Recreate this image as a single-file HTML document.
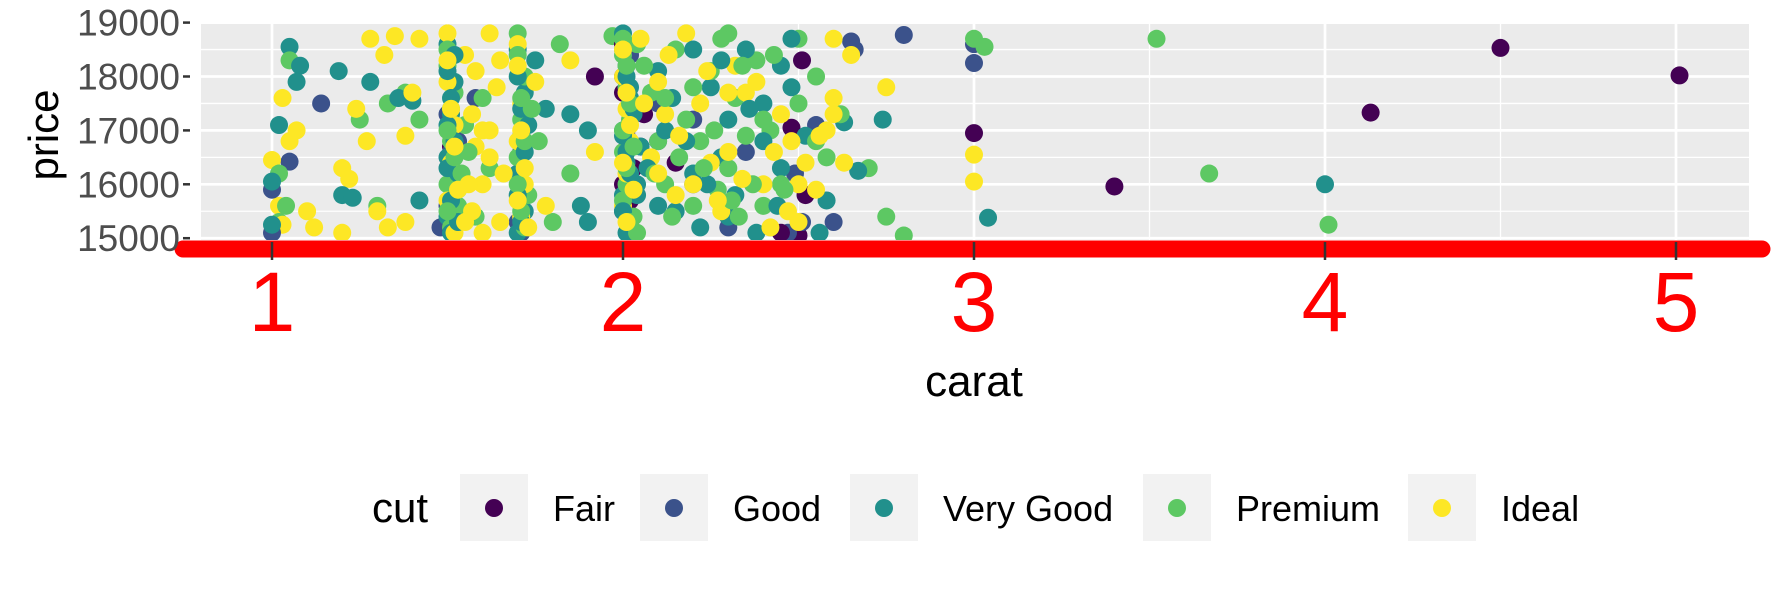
<!DOCTYPE html>
<html><head><meta charset="utf-8"><style>
html,body{margin:0;padding:0;background:#fff;}
svg{display:block;font-family:"Liberation Sans",Arial,sans-serif;}
</style></head><body>
<svg id="chart" width="1771" height="590" viewBox="0 0 1771 590" xmlns="http://www.w3.org/2000/svg">
<defs><clipPath id="pc"><rect x="201" y="22" width="1548" height="218"/></clipPath></defs>
<rect x="201" y="22" width="1548" height="218" fill="#ebebeb"/>
<g id="grid"></g>
<g id="pts" clip-path="url(#pc)"></g>
<line x1="183" y1="249" x2="1762" y2="249" stroke="#ff0000" stroke-width="17" stroke-linecap="round"/>
<g id="axes"></g>
<text x="974" y="396" font-size="44" text-anchor="middle" fill="#000">carat</text>
<text transform="translate(58,135) rotate(-90)" font-size="42" text-anchor="middle" fill="#000">price</text>
<g>
<text x="372" y="522" font-size="42" fill="#000">cut</text>
</g>
<g id="legend"></g>
</svg>
<script>
const xTicks=[1,2,3,4,5];
const xMinor=[1.5,2.5,3.5,4.5];
const yTicks=[15000,16000,17000,18000,19000];
const yMinor=[15500,16500,17500,18500];
const cuts=["Fair","Good","Very Good","Premium","Ideal"];
const colors=["#440154","#3B528B","#21908C","#5DC863","#FDE725"];

const fairCarat=[1.92,2.0,2.06,2.03,2.5,2.52,2.55,2.51,3.0,3.4,4.13,4.5,5.01,2.45,2.48,2.02,2.15,2.3,2.0,2.01,2.02,2.0,1.51];
const fairPrice=[18000,17700,17300,16300,15050,15800,16950,18300,16950,15960,17330,18530,18020,15100,17050,15700,16400,15400,18600,16900,15300,16000,16700];

const goodCarat=[1.05,1.14,1.0,1.0,1.48,2.47,2.8,2.65,2.66,3.0,3.0,2.49,1.7,1.5,1.52,2.0,2.2,2.3,1.53,2.6,1.72,2.1,2.51,2.55,1.58,2.35,2.05,1.71,2.02,2.0,2.01,2.02,1.5,1.51,1.71,2.1,2.2];
const goodPrice=[16420,17500,15900,15100,15200,15100,18770,18650,18500,18600,18250,16200,15300,17300,16100,15500,16000,15200,16800,15300,15800,17500,15300,17100,17600,16600,16700,15100,18400,18000,17000,16000,15600,16600,16600,16800,17200];

const vgCarat=[1.05,1.08,1.07,1.02,1.0,1.0,1.19,1.28,1.4,1.36,1.2,1.23,1.42,1.88,1.9,1.85,1.9,2.3,2.38,2.45,2.63,2.58,2.67,2.74,3.04,4.0,2.56,2.52,2.48,2.45,2.4,
1.5,1.51,1.5,1.52,1.5,1.52,1.51,1.53,1.7,1.72,1.71,1.7,1.72,1.7,1.75,1.78,
2.0,2.01,2.02,2.0,2.01,2.0,2.02,2.03,2.05,2.04,2.1,2.12,2.15,2.2,2.25,2.28,2.22,2.35,2.3,
1.5,1.51,1.52,1.5,1.51,1.53,1.5,1.52,1.7,1.71,1.72,1.7,1.71,1.73,
2.0,2.01,2.02,2.03,2.0,2.01,2.02,2.04,2.0,2.01,2.07,2.1,2.14,2.18,2.2,2.24,2.28,2.32,2.36,2.4,2.44,2.48];
const vgPrice=[18550,18200,17900,17100,16050,15250,18100,17900,17550,17600,15800,15750,15700,15600,15300,17300,17000,15400,15100,16300,17150,15700,16250,17200,15380,16000,15100,16900,18700,18200,17500,
18600,17300,16500,15900,15400,17900,15100,16200,18500,17700,16900,16200,15500,15100,18300,17400,
18800,18200,17600,17000,16400,15800,15200,17300,16700,16000,18100,17000,15500,16200,17800,16500,15200,18500,17200,
18100,17600,16800,16300,15700,15300,17100,18400,18000,17400,16600,15800,15300,17100,
18500,18000,17800,17400,16900,16600,16200,15800,15500,15100,16300,15600,17600,16800,18500,16000,18300,15800,17400,16800,15600,17800];

const premCarat=[1.05,1.02,1.02,1.04,1.25,1.33,1.38,1.42,1.3,1.85,1.82,1.8,1.97,2.5,2.55,2.58,2.7,2.75,2.8,3.0,3.03,3.52,3.67,4.01,2.62,2.45,2.42,2.4,2.38,2.3,2.32,
1.5,1.52,1.51,1.5,1.53,1.51,1.55,1.6,1.62,1.58,1.7,1.72,1.71,1.7,1.73,1.72,1.76,
2.0,2.01,2.02,2.0,2.01,2.03,2.04,2.08,2.1,2.12,2.15,2.18,2.2,2.22,2.25,2.27,2.3,2.33,2.35,
1.5,1.51,1.52,1.53,1.5,1.54,1.56,1.5,1.7,1.71,1.72,1.7,1.71,1.74,
2.0,2.01,2.02,2.0,2.03,2.01,2.0,2.02,2.04,2.06,2.09,2.12,2.14,2.16,2.2,2.23,2.26,2.28,2.31,2.34,2.37,2.4,2.43,2.46,2.5,2.55];
const premPrice=[18300,16200,15300,15600,17200,17500,17700,17200,15600,16200,18600,15300,18750,18700,18000,16500,16300,15400,15050,18700,18550,18700,16200,15250,17300,16000,17000,15600,18300,18800,17600,
18200,17700,16800,16000,15600,15200,17100,17600,16300,15400,18800,18000,17200,16500,15800,15200,16800,
18400,17800,17200,16600,16000,15400,18600,17700,16800,16000,18500,17200,15600,16800,18100,15900,16300,15400,16900,
18500,17400,16500,15900,15500,16200,16600,17000,18400,17600,16800,16000,15500,17400,
18700,18200,17500,17000,16700,16300,15700,15300,15100,18200,16200,17600,15400,16500,17800,16300,17000,18700,15700,18200,16000,17200,18400,15900,17500,16800];

const idealCarat=[1.0,1.02,1.03,1.05,1.03,1.07,1.1,1.12,1.2,1.22,1.24,1.27,1.28,1.32,1.35,1.3,1.33,1.2,1.38,1.4,1.42,1.38,1.85,1.92,2.6,2.65,2.6,2.75,2.63,2.58,2.55,2.5,3.0,3.0,2.48,2.5,
1.5,1.5,1.52,1.51,1.5,1.52,1.55,1.57,1.58,1.6,1.57,1.62,1.65,1.62,1.65,1.7,1.71,1.7,1.72,1.71,1.75,1.78,
2.0,2.01,2.02,2.01,2.0,2.02,2.05,2.1,2.12,2.08,2.15,2.18,2.22,2.25,2.28,2.32,2.35,2.3,2.4,2.42,2.45,
1.5,1.51,1.52,1.53,1.55,1.58,1.6,1.62,1.64,1.66,1.56,1.6,1.7,1.71,1.72,1.7,1.73,
2.0,2.01,2.02,2.0,2.03,2.01,2.06,2.1,2.13,2.16,2.2,2.24,2.27,2.3,2.34,2.38,2.43,2.47,2.52,2.56,2.6];
const idealPrice=[16450,15600,15250,16800,17600,17000,15500,15200,16300,16100,17400,16800,18700,18400,18750,15500,15200,15100,16900,17700,18700,15300,18300,16600,18700,18400,17300,17800,16400,17000,15900,15300,16550,16050,16800,16000,
18800,17900,17100,16400,15700,15100,18400,17300,16700,16000,15500,18800,18300,17000,15300,18600,17500,16800,16000,15400,17900,15600,
18000,17400,16800,16200,15600,15000,18700,17900,17300,16500,15800,18800,17500,16400,15500,18200,17700,16600,16000,15200,17300,
18300,17400,16700,15900,15300,18100,17000,16500,17800,16200,16000,15100,18200,17000,16300,15700,15200,
18500,17700,17100,16400,15900,15300,17500,16200,18400,16900,16000,18100,15700,17700,16100,17900,16600,15500,16400,16900,17600];

const seriesCarat=[fairCarat,goodCarat,vgCarat,premCarat,idealCarat];
const seriesPrice=[fairPrice,goodPrice,vgPrice,premPrice,idealPrice];

const NS="http://www.w3.org/2000/svg";
function xs(c){return 272+(c-1)*351;}
function ys(p){return 22.6+(19000-p)*0.0539;}
function mk(tag,attrs,parent){const e=document.createElementNS(NS,tag);for(const k in attrs)e.setAttribute(k,attrs[k]);parent.appendChild(e);return e;}

const grid=document.getElementById('grid');
yMinor.forEach(v=>{const l=mk('line',{x1:201,x2:1749,y1:ys(v),y2:ys(v),stroke:'#fff','stroke-width':1.3},grid);

});
xMinor.forEach(v=>{const l=mk('line',{x1:xs(v),x2:xs(v),y1:22,y2:240,stroke:'#fff','stroke-width':1.3},grid);

});
yTicks.forEach(v=>{const l=mk('line',{x1:201,x2:1749,y1:ys(v),y2:ys(v),stroke:'#fff','stroke-width':2.7},grid);

});
xTicks.forEach(v=>{const l=mk('line',{x1:xs(v),x2:xs(v),y1:22,y2:240,stroke:'#fff','stroke-width':2.7},grid);

});

const pts=document.getElementById('pts');
let maxLen=Math.max(...seriesCarat.map(a=>a.length));
for(let i=0;i<maxLen;i++){
  for(let s=0;s<5;s++){
    if(i<seriesCarat[s].length){
      const c=mk('circle',{cx:xs(seriesCarat[s][i]),cy:ys(seriesPrice[s][i]),r:9,fill:colors[s]},pts);
      
      
    }
  }
}

const axes=document.getElementById('axes');
yTicks.forEach(v=>{
  const t=mk('line',{x1:183,x2:190,y1:ys(v),y2:ys(v),stroke:'#333','stroke-width':2.5},axes);
  
  
  const tx=mk('text',{x:180,y:ys(v)+13,'font-size':37,'text-anchor':'end',fill:'#4d4d4d'},axes);
  tx.textContent=v;
  
  
});
xTicks.forEach(v=>{
  const t=mk('line',{x1:xs(v),x2:xs(v),y1:242,y2:260,stroke:'#333','stroke-width':2.5},axes);
  
  
  const tx=mk('text',{x:xs(v),y:331,'font-size':84,'text-anchor':'middle',fill:'#ff0000'},axes);
  tx.textContent=v;
  
  
});

const legend=document.getElementById('legend');
const keyX=[460,640,850,1143,1408];
cuts.forEach((c,i)=>{
  const r=mk('rect',{x:keyX[i],y:474,width:68,height:67,fill:'#f2f2f2'},legend);
  
  
  const d=mk('circle',{cx:keyX[i]+34,cy:508,r:9,fill:colors[i]},legend);
  
  
  const t=mk('text',{x:keyX[i]+93,y:521,'font-size':36,fill:'#000'},legend);
  t.textContent=c;
  
  
});
</script>
</body></html>
